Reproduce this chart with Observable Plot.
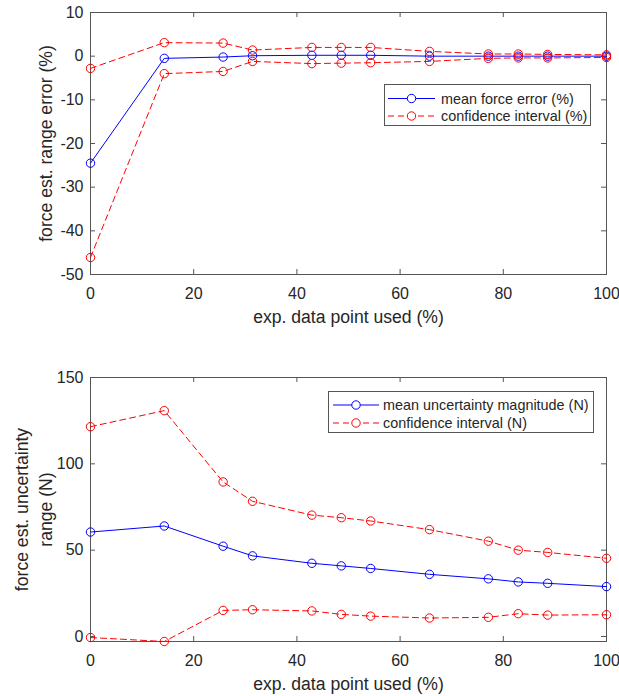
<!DOCTYPE html>
<html>
<head>
<meta charset="utf-8">
<script src="https://cdn.jsdelivr.net/npm/d3@7"></script>
<script src="https://cdn.jsdelivr.net/npm/@observablehq/plot@0.6"></script>
<style>
  html, body { margin: 0; padding: 0; background: #fff; }
  #chart { position: relative; width: 619px; height: 696px; }
  #chart svg { display: block; }
  #legends { position: absolute; left: 0; top: 0; pointer-events: none; }
</style>
</head>
<body>
<div id="chart"></div>
<script>
// Share of experimental data points used (%)
const pointsUsed = [0, 14.3, 25.7, 31.4, 42.9, 48.6, 54.3, 65.7, 77.1, 82.9, 88.6, 100];

// Force estimation range error (%)
const meanForceError = [-24.5, -0.5, -0.2, 0.1, 0.2, 0.2, 0.2, 0.0, 0.0, 0.0, 0.0, 0.0];
const errorUpper = [-2.8, 3.1, 3.0, 1.4, 2.0, 2.0, 2.0, 1.1, 0.5, 0.5, 0.4, 0.3];
const errorLower = [-46.1, -4.0, -3.5, -1.2, -1.7, -1.6, -1.5, -1.2, -0.5, -0.4, -0.4, -0.3];

// Force estimation uncertainty range (N)
const meanUncertainty = [60.5, 64.0, 52.3, 46.7, 42.4, 40.9, 39.4, 36.0, 33.4, 31.6, 30.8, 28.9];
const uncertaintyUpper = [121.5, 130.8, 89.5, 78.3, 70.3, 68.8, 66.9, 61.9, 55.2, 50.0, 48.7, 45.3];
const uncertaintyLower = [-0.6, -2.9, 15.1, 15.5, 14.8, 12.8, 11.8, 10.7, 11.1, 13.2, 12.4, 12.6];

// Tick values
const xTicks = [0, 20, 40, 60, 80, 100];
const errorTicks = [-50, -40, -30, -20, -10, 0, 10];
const uncertaintyTicks = [0, 50, 100, 150];

const FONT = "'Liberation Sans', Arial, Helvetica, sans-serif";
const TEXT = "#262626";
const AXIS = "#555555";
const BLUE = "#0000ff";
const RED = "#ff0000";
const DASH = "6,4";

// Plain hyphen-minus tick labels
const plainNumber = d => String(d);

const rows = (values) => pointsUsed.map((x, i) => ({x, v: values[i]}));

// Inward tick marks on all four sides of the axes box (MATLAB style)
function boxTicks(xt, yt, innerW, innerH, len) {
  const o = {stroke: AXIS, strokeWidth: 1};
  return [
    Plot.tickX(xt, {x: d => d, insetTop: innerH - len, ...o}),
    Plot.tickX(xt, {x: d => d, insetBottom: innerH - len, ...o}),
    Plot.tickY(yt, {y: d => d, insetRight: innerW - len, ...o}),
    Plot.tickY(yt, {y: d => d, insetLeft: innerW - len, ...o})
  ];
}

function series(values, color, dashed) {
  const data = rows(values);
  return [
    Plot.line(data, {x: "x", y: "v", stroke: color, strokeWidth: 1, strokeDasharray: dashed ? DASH : null}),
    Plot.dot(data, {x: "x", y: "v", r: 4.2, stroke: color, fill: "none", strokeWidth: 1})
  ];
}

function panel({height, marginTop, marginBottom, yDomain, yTicks, yLabel, yLabelDx, lines}) {
  const width = 619, marginLeft = 90, marginRight = 13;
  const innerW = width - marginLeft - marginRight;
  const innerH = height - marginTop - marginBottom;
  return Plot.plot({
    width, height, marginLeft, marginRight, marginTop, marginBottom,
    style: {fontFamily: FONT, fontSize: "16px", color: TEXT, background: "#fff", overflow: "visible"},
    x: {domain: [0, 100]},
    y: {domain: yDomain},
    marks: [
      Plot.frame({stroke: AXIS, strokeWidth: 1}),
      ...boxTicks(xTicks, yTicks, innerW, innerH, 5),
      Plot.axisX({ticks: xTicks, tickFormat: plainNumber, tickSize: 0, tickPadding: 13, label: null, fontSize: 16}),
      Plot.axisY({ticks: yTicks, tickFormat: plainNumber, tickSize: 0, tickPadding: 7, label: null, fontSize: 16}),
      ...lines,
      Plot.text(["exp. data point used (%)"], {
        frameAnchor: "bottom", lineAnchor: "top", dy: 36, fontSize: 17.6, fill: TEXT
      }),
      Plot.text([yLabel], {
        frameAnchor: "left", rotate: -90, dx: yLabelDx, lineAnchor: "middle",
        textAnchor: "middle", fontSize: 17.6, lineHeight: 1.36, fill: TEXT
      })
    ]
  });
}

const chart = document.getElementById("chart");

chart.append(panel({
  height: 340, marginTop: 12, marginBottom: 66,
  yDomain: [-50, 10], yTicks: errorTicks,
  yLabel: "force est. range error (%)", yLabelDx: -46,
  lines: [
    ...series(meanForceError, BLUE, false),
    ...series(errorUpper, RED, true),
    ...series(errorLower, RED, true)
  ]
}));

chart.append(panel({
  height: 356, marginTop: 37, marginBottom: 55,
  yDomain: [-2.9, 150], yTicks: uncertaintyTicks,
  yLabel: "force est. uncertainty\nrange (N)", yLabelDx: -58,
  lines: [
    ...series(meanUncertainty, BLUE, false),
    ...series(uncertaintyUpper, RED, true),
    ...series(uncertaintyLower, RED, true)
  ]
}));

// Legends drawn inside each axes box
const legends = [
  {box: [384, 84, 206, 41], line: [388, 435], text: 441,
   entries: [{label: "mean force error (%)", color: BLUE, dashed: false, y: 98.5},
             {label: "confidence interval (%)", color: RED, dashed: true, y: 116}]},
  {box: [328, 391, 265, 41], line: [333, 379], text: 383,
   entries: [{label: "mean uncertainty magnitude (N)", color: BLUE, dashed: false, y: 405},
             {label: "confidence interval (N)", color: RED, dashed: true, y: 423}]}
];

const overlay = d3.select(chart).append("svg")
  .attr("id", "legends").attr("width", 619).attr("height", 696)
  .attr("font-family", FONT);

for (const lg of legends) {
  const [bx, by, bw, bh] = lg.box;
  overlay.append("rect")
    .attr("x", bx + 0.5).attr("y", by + 0.5).attr("width", bw).attr("height", bh)
    .attr("fill", "#fff").attr("stroke", AXIS).attr("stroke-width", 1);
  for (const e of lg.entries) {
    overlay.append("line")
      .attr("x1", lg.line[0]).attr("x2", lg.line[1]).attr("y1", e.y).attr("y2", e.y)
      .attr("stroke", e.color).attr("stroke-width", 1)
      .attr("stroke-dasharray", e.dashed ? DASH : null);
    overlay.append("circle")
      .attr("cx", (lg.line[0] + lg.line[1]) / 2).attr("cy", e.y).attr("r", 4.2)
      .attr("fill", "#fff").attr("stroke", e.color).attr("stroke-width", 1);
    overlay.append("text")
      .attr("x", lg.text).attr("y", e.y).attr("dy", "0.35em")
      .attr("font-size", 14.4).attr("fill", TEXT)
      .text(e.label);
  }
}
</script>
</body>
</html>
